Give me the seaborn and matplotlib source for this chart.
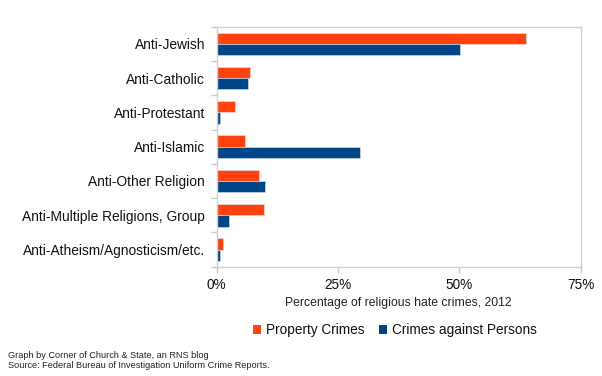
import matplotlib
matplotlib.use("Agg")
import matplotlib.pyplot as plt
import seaborn as sns
import pandas as pd
from matplotlib.patches import Patch
from matplotlib.ticker import FixedLocator, FuncFormatter

categories = ["Anti-Jewish", "Anti-Catholic", "Anti-Protestant", "Anti-Islamic",
              "Anti-Other Religion", "Anti-Multiple Religions, Group",
              "Anti-Atheism/Agnosticism/etc."]
property_crimes = [63.7, 6.9, 3.8, 5.9, 8.8, 9.7, 1.2]
person_crimes = [50.2, 6.5, 0.6, 29.6, 10.0, 2.6, 0.6]
series = ["Property Crimes", "Crimes against Persons"]
colors = ["#ff420e", "#004586"]
xticks = [0, 25, 50, 75]

df = pd.DataFrame({
    "category": categories * 2,
    "value": property_crimes + person_crimes,
    "series": [series[0]] * len(categories) + [series[1]] * len(categories),
})

sns.set_style("white")
plt.rcParams['font.family'] = ['Liberation Sans', 'DejaVu Sans']
plt.rcParams['text.color'] = '#111111'
plt.rcParams['xtick.labelcolor'] = '#111111'
plt.rcParams['ytick.labelcolor'] = '#111111'

fig = plt.figure(figsize=(6.02, 3.76), dpi=100)
ax = fig.add_axes([216.7 / 602, 1 - 266.7 / 376, (580.7 - 216.7) / 602, (266.7 - 26.7) / 376])

sns.barplot(data=df, y="category", x="value", hue="series", order=categories,
            hue_order=series, palette=colors, saturation=1, width=0.66, orient="h",
            edgecolor="#dfe6ee", linewidth=0.4, ax=ax, legend=False)

ax.set_xlim(0, 75)
ax.set_ylim(len(categories) - 0.5, -0.5)
ax.set_xticks(xticks)
ax.xaxis.set_major_formatter(FuncFormatter(lambda v, p: f"{v:.0f}%"))
ax.tick_params(axis="x", length=4, color="#c8c8c8", width=1, labelsize=9.8, pad=4, direction="out")
ax.tick_params(axis="y", which="major", length=0, labelsize=9.9, pad=8.4)
ax.yaxis.set_minor_locator(FixedLocator([i - 0.5 for i in range(len(categories) + 1)]))
ax.tick_params(axis="y", which="minor", length=4, color="#c8c8c8", width=1, left=True)
ax.tick_params(axis="x", bottom=True)
ax.set_ylabel("")
ax.set_xlabel("Percentage of religious hate crimes, 2012", fontsize=8.8, labelpad=4, color="#222222")
for s in ax.spines.values():
    s.set_color("#d0d0d0")
    s.set_linewidth(1)

handles = [Patch(facecolor=c, edgecolor="none") for c in colors]
fig.legend(handles, series, loc="center", bbox_to_anchor=(395 / 602, 1 - 330 / 376),
           ncol=2, frameon=False, fontsize=9.8, handlelength=0.6, handleheight=0.6,
           handletextpad=0.35, columnspacing=1.1)

fig.text(8 / 602, 1 - 355 / 376, "Graph by Corner of Church & State, an RNS blog",
         fontsize=6.6, va="center", ha="left", color="#222222")
fig.text(8 / 602, 1 - 365 / 376, "Source: Federal Bureau of Investigation Uniform Crime Reports.",
         fontsize=6.6, va="center", ha="left", color="#222222")

fig.savefig("out.png", dpi=100)
